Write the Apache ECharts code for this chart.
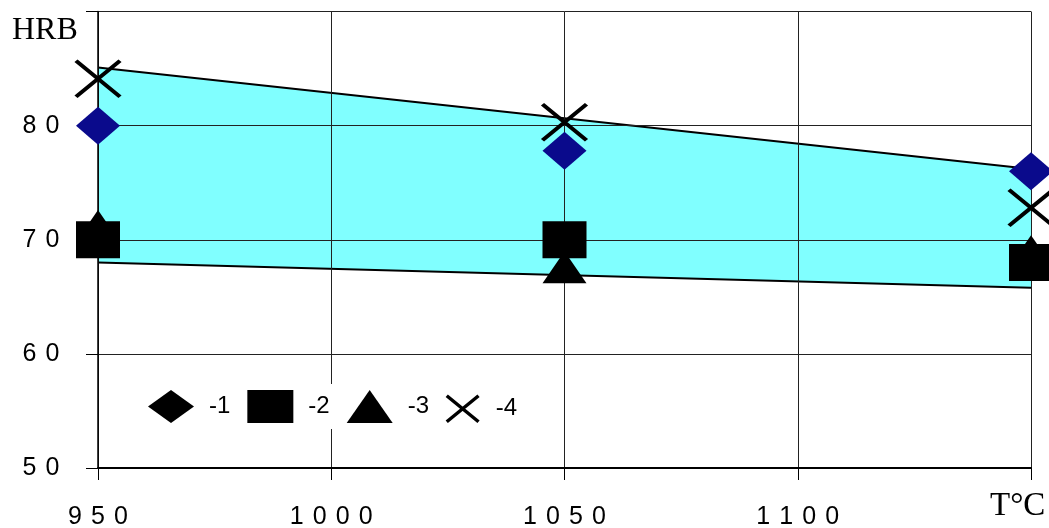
<!DOCTYPE html>
<html>
<head>
<meta charset="utf-8">
<script src="https://cdn.jsdelivr.net/npm/echarts@6/dist/echarts.min.js"></script>
<style>
html,body{margin:0;padding:0;background:#fff;}
#chart{width:1049px;height:528px;}
</style>
</head>
<body>
<div id="chart"></div>
<script>
// ---- data ----
const temps = [950, 1050, 1150];
const series1 = [80, 77.8, 76];
const series2 = [70, 70, 68];
const series3 = [71.2, 67.6, 69];
const series4 = [84.1, 80.3, 72.8];
const bandTemps = [950, 1150];
const bandLow = [68, 65.8];
const bandHigh = [85.1, 76.2];
const seriesNames = ['-1', '-2', '-3', '-4'];
const xTicks = [950, 1000, 1050, 1100];
const yTicks = [50, 60, 70, 80];
const xUnit = 'T°C';
const yUnit = 'HRB';

const pairs = (xs, ys) => xs.map((x, i) => [x, ys[i]]);
const spaced = v => String(v).split('').map(c => '{d|' + c + '}').join('');
const FONT = 'Liberation Sans, Arial, sans-serif';
const richDigits = { d: { width: 23, align: 'center', fontSize: 25, fontFamily: FONT, color: '#000' } };
const xPath = 'path://M0,0L44,36M44,0L0,36';

const chart = echarts.init(document.getElementById('chart'));
chart.setOption({
  animation: false,
  backgroundColor: '#fff',
  grid: { left: 98, right: 18, top: 11.5, bottom: 60, containLabel: false, outerBoundsMode: 'none' },
  xAxis: {
    type: 'value', min: 950, max: 1150, interval: 50, z: 3,
    axisLine: { lineStyle: { color: '#000', width: 2 } },
    axisTick: { show: true, length: 12, lineStyle: { color: '#000' } },
    splitLine: { show: true, lineStyle: { color: '#222', width: 1 } },
    axisLabel: {
      margin: 37, fontSize: 25, fontFamily: FONT, color: '#000',
      formatter: v => xTicks.includes(v) ? spaced(v) : '',
      rich: richDigits
    }
  },
  yAxis: {
    type: 'value', min: 50, max: 90, interval: 10, z: 3,
    axisLine: { show: true, lineStyle: { color: '#000', width: 1.5 } },
    axisTick: { show: true, length: 12, lineStyle: { color: '#000' } },
    splitLine: { show: true, lineStyle: { color: '#222', width: 1 } },
    axisLabel: {
      margin: 34, fontSize: 25, fontFamily: FONT, color: '#000',
      formatter: v => yTicks.includes(v) ? spaced(v) : '',
      rich: richDigits
    }
  },
  legend: [{
    left: 140, top: 384, z: 10,
    backgroundColor: '#fff',
    padding: [6, 8, 6, 8],
    itemWidth: 46, itemHeight: 33, itemGap: 17,
    textStyle: { fontSize: 24, fontFamily: FONT, color: '#000', padding: [0, 0, 0, 10] },
    data: [
      { name: seriesNames[0], icon: 'diamond', itemStyle: { color: '#000' } },
      { name: seriesNames[1], icon: 'rect', itemStyle: { color: '#000' } },
      { name: seriesNames[2], icon: 'triangle', itemStyle: { color: '#000' } }
    ]
  }, {
    left: 437, top: 384, z: 10,
    backgroundColor: '#fff',
    padding: [10, 8, 10, 8],
    itemWidth: 32, itemHeight: 26,
    textStyle: { fontSize: 24, fontFamily: FONT, color: '#000', padding: [0, 0, 0, 12] },
    data: [
      { name: seriesNames[3], icon: xPath, itemStyle: { color: 'transparent', borderColor: '#000', borderWidth: 3.5 } }
    ]
  }],
  graphic: [
    { type: 'text', left: 12, top: 15, z: 20, style: { text: yUnit, fontSize: 32, fontFamily: 'Liberation Serif, Times New Roman, serif', fill: '#000' } },
    { type: 'text', left: 990, top: 490, z: 20, style: { text: xUnit, fontSize: 33, fontFamily: 'Liberation Serif, Times New Roman, serif', fill: '#000' } }
  ],
  series: [
    {
      name: 'bandHigh', type: 'line', symbol: 'none', z: 1,
      lineStyle: { color: '#000', width: 2 },
      areaStyle: { color: '#80ffff', opacity: 1, origin: 'start' },
      data: pairs(bandTemps, bandHigh)
    },
    {
      name: 'bandLow', type: 'line', symbol: 'none', z: 1.5,
      lineStyle: { color: '#000', width: 2 },
      areaStyle: { color: '#ffffff', opacity: 1, origin: 'start' },
      data: pairs(bandTemps, bandLow)
    },
    {
      name: seriesNames[2], type: 'scatter', symbol: 'triangle', symbolSize: [44, 32], z: 5,
      itemStyle: { color: '#000', opacity: 1 },
      data: pairs(temps, series3)
    },
    {
      name: seriesNames[1], type: 'scatter', symbol: 'rect', symbolSize: [44, 37], z: 6,
      itemStyle: { color: '#000', opacity: 1 },
      data: pairs(temps, series2)
    },
    {
      name: seriesNames[0], type: 'scatter', symbol: 'diamond', symbolSize: [44, 38], z: 7,
      itemStyle: { color: '#0a0a8c', opacity: 1 },
      data: pairs(temps, series1)
    },
    {
      name: seriesNames[3], type: 'scatter', symbol: xPath, symbolSize: [44, 36], z: 8,
      itemStyle: { color: 'transparent', borderColor: '#000', borderWidth: 4, opacity: 1 },
      data: pairs(temps, series4)
    }
  ]
});
</script>
</body>
</html>
